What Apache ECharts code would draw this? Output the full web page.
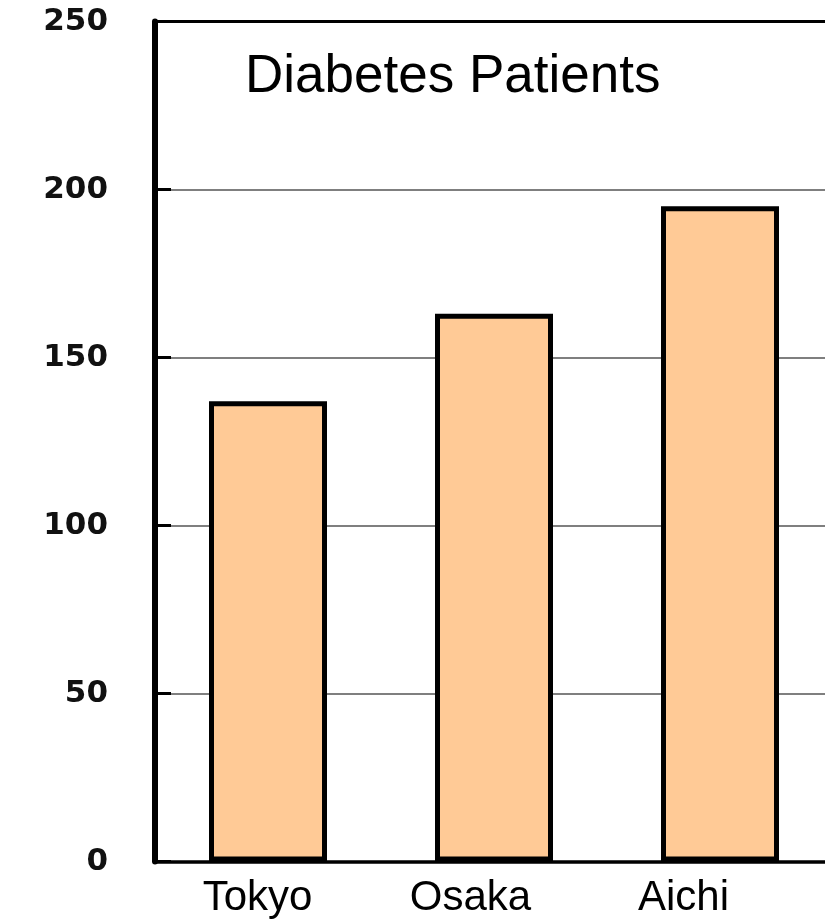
<!DOCTYPE html>
<html>
<head>
<meta charset="utf-8">
<script src="https://cdn.jsdelivr.net/npm/echarts@6/dist/echarts.min.js"></script>
<style>
  html, body { margin: 0; padding: 0; background: #fff; overflow: hidden; }
  /* the plot frame runs slightly past the right edge of the page */
  #chart { width: 833px; height: 920px; }
</style>
</head>
<body>
<div id="chart"></div>
<script>
// Patient counts by prefecture
const categories = ['Tokyo', 'Osaka', 'Aichi'];
const patients = [137, 163, 195];
const yTicks = [0, 50, 100, 150, 200, 250];
const titleText = 'Diabetes Patients';

const chart = echarts.init(document.getElementById('chart'), null, { renderer: 'canvas' });

chart.setOption({
  animation: false,
  backgroundColor: '#ffffff',
  title: {
    text: titleText,
    left: 245,
    top: 51,
    padding: 0,
    textStyle: {
      fontFamily: 'Liberation Sans, Arial, sans-serif',
      fontSize: 53,
      fontWeight: 'normal',
      color: '#000'
    }
  },
  grid: [
    // main plot area
    { left: 155, top: 21.5, right: 0, bottom: 58.5, containLabel: false },
    // category captions sit on a slightly tighter spacing than the bars
    { left: 151, top: 21.5, width: 639, bottom: 58.5, containLabel: false }
  ],
  xAxis: [
    {
      type: 'category',
      gridIndex: 0,
      data: categories,
      axisLine: { lineStyle: { color: '#000', width: 3.5 } },
      axisTick: { show: false },
      axisLabel: { show: false }
    },
    {
      type: 'category',
      gridIndex: 0,
      position: 'top',
      data: categories,
      axisLine: { show: true, lineStyle: { color: '#000', width: 3 } },
      axisTick: { show: false },
      axisLabel: { show: false }
    },
    {
      type: 'category',
      gridIndex: 1,
      data: categories,
      axisLine: { show: false },
      axisTick: { show: false },
      axisLabel: {
        margin: 16,
        fontFamily: 'Liberation Sans, Arial, sans-serif',
        fontSize: 42,
        color: '#000'
      }
    }
  ],
  yAxis: [
    {
      type: 'value',
      gridIndex: 0,
      min: yTicks[0],
      max: yTicks[yTicks.length - 1],
      interval: yTicks[1] - yTicks[0],
      axisLine: { show: true, lineStyle: { color: '#000', width: 6 } },
      axisTick: { show: true, inside: true, length: 16, lineStyle: { color: '#000', width: 3 } },
      splitLine: { show: true, lineStyle: { color: '#555', width: 1.5 } },
      axisLabel: {
        margin: 47,
        fontFamily: 'DejaVu Sans, sans-serif',
        fontWeight: 'bold',
        fontSize: 31,
        color: '#111'
      }
    },
    {
      type: 'value',
      gridIndex: 1,
      min: yTicks[0],
      max: yTicks[yTicks.length - 1],
      show: false
    }
  ],
  series: [
    {
      type: 'bar',
      xAxisIndex: 0,
      yAxisIndex: 0,
      data: patients,
      barWidth: 118,
      itemStyle: {
        color: '#ffca96',
        borderColor: '#000',
        borderWidth: 5
      }
    }
  ]
});
</script>
</body>
</html>
